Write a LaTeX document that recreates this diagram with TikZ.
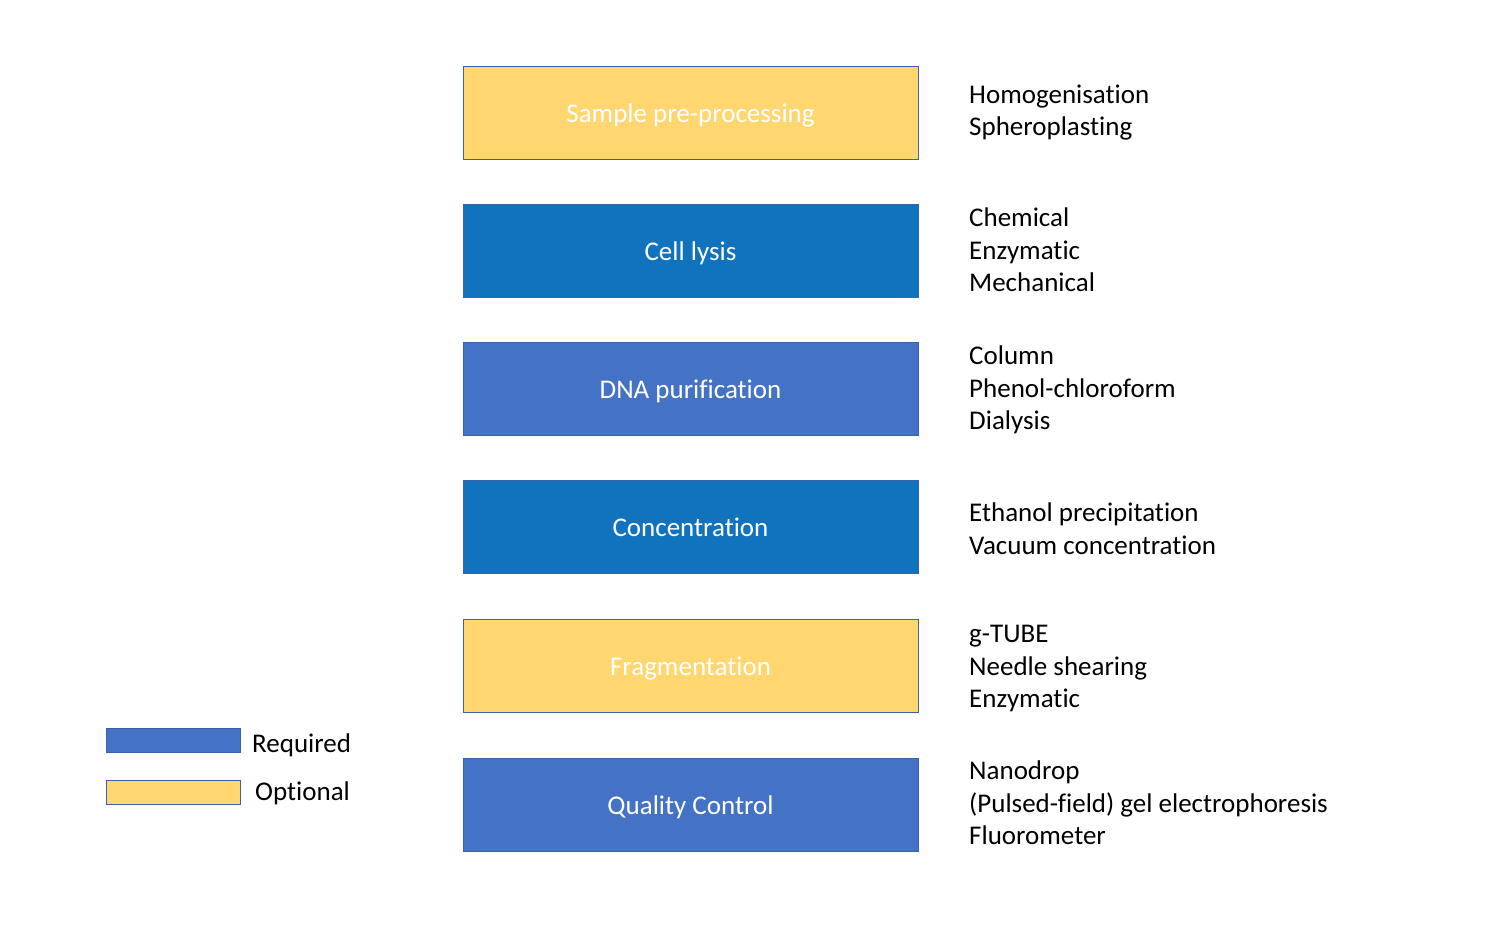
\documentclass[tikz,border=0pt]{standalone}
\usepackage{fontspec}
\setmainfont{Carlito}[Ligatures=NoCommon]
\definecolor{optyellow}{HTML}{FFD670}
\definecolor{reqblue}{HTML}{4472C4}
\definecolor{darkblue}{HTML}{1172BE}
\definecolor{edgeblue}{HTML}{3A62A8}
\tikzset{
  stage/.style={rectangle, draw=edgeblue, line width=1pt, text=white,
    minimum width=455pt, minimum height=93pt, text height=20pt, text depth=1pt,
    font=\fontsize{27}{32}\selectfont},
  methods/.style={anchor=west, align=left, inner sep=0pt,
    font=\fontsize{27}{32.5}\selectfont},
  legendbox/.style={rectangle, draw=edgeblue, line width=1pt,
    minimum width=134pt, minimum height=24pt, inner sep=0pt},
  legendtext/.style={anchor=west, inner sep=0pt, font=\fontsize{27}{32}\selectfont}
}
\begin{document}
\begin{tikzpicture}[x=1pt, y=-1pt]
  \useasboundingbox (0,0) rectangle (1498,926);

  \begin{scope}[every node/.style={stage}]
    \node[fill=optyellow] (pre)   at (690.5,112.5) {Sample pre-processing};
    \node[fill=darkblue]  (lysis) at (690.5,250.5) {Cell lysis};
    \node[fill=reqblue]   (purif) at (690.5,388.5) {DNA purification};
    \node[fill=darkblue]  (conc)  at (690.5,526.5) {Concentration};
    \node[fill=optyellow] (frag)  at (690.5,665.5) {Fragmentation};
    \node[fill=reqblue]   (qc)    at (690.5,804.5) {Quality Control};
  \end{scope}

  \begin{scope}[every node/.style={methods}]
    \node (prem)   at (969,112.5) {Homogenisation\\Spheroplasting};
    \node (lysism) at (969,250)   {Chemical\\Enzymatic\\Mechanical};
    \node (purifm) at (969,390)   {Column\\Phenol-chloroform\\Dialysis};
    \node (concm)  at (969,528.5) {Ethanol precipitation\\Vacuum concentration};
    \node (fragm)  at (969,669)   {g-TUBE\\Needle shearing\\Enzymatic};
    \node (qcm)    at (969,803)   {Nanodrop\\(Pulsed-field) gel electrophoresis\\Fluorometer};
  \end{scope}

  \node[legendbox, fill=reqblue]   (req) at (173,740) {};
  \node[legendbox, fill=optyellow] (opt) at (173,792) {};
  \node[legendtext] (reqt) at (252,745) {Required};
  \node[legendtext] (optt) at (255,793) {Optional};

\end{tikzpicture}
\end{document}
